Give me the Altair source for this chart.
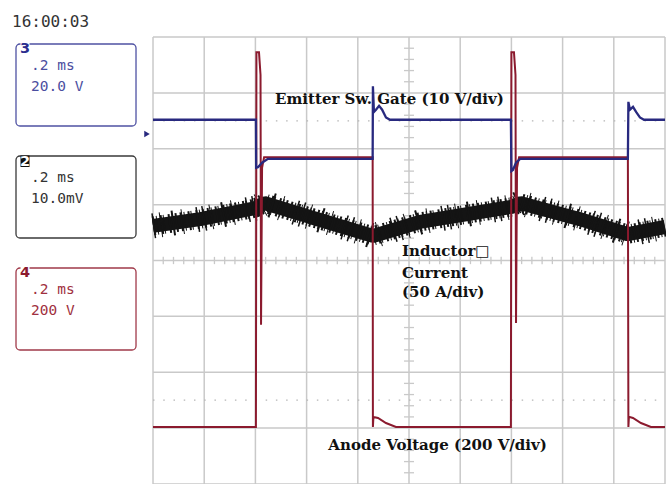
import altair as alt
import pandas as pd

# ---- data (time in ms, 0.2 ms/div; level in screen divisions) ----
gate_t = [0.0, 0.402, 0.403, 0.410, 0.426, 0.449, 0.858, 0.859, 0.863, 0.871, 0.883, 0.895, 0.910, 0.926,
          1.398, 1.400, 1.406, 1.418, 1.434, 1.855, 1.857, 1.863, 1.875, 1.887, 1.902, 1.918, 2.0]
gate_v = [2.52, 2.52, 1.66, 1.67, 1.75, 1.82, 1.82, 3.12, 2.66, 2.70, 2.77, 2.70, 2.56, 2.52,
          2.52, 1.60, 1.62, 1.75, 1.82, 1.82, 2.84, 2.70, 2.75, 2.66, 2.56, 2.52, 2.52]

anode_t = [0.0, 0.402, 0.404, 0.414, 0.420, 0.422, 0.426, 0.434, 0.858, 0.859, 0.861, 0.879, 0.910, 0.949,
           1.398, 1.400, 1.410, 1.416, 1.418, 1.422, 1.430, 1.855, 1.857, 1.859, 1.875, 1.906, 1.945, 2.0]
anode_v = [-2.98, -2.98, 3.73, 3.73, 3.32, -1.15, 1.66, 1.85, 1.85, -2.98, -2.80, -2.82, -2.91, -2.98,
           -2.98, 3.73, 3.73, 3.32, -1.12, 1.66, 1.85, 1.85, -2.98, -2.80, -2.82, -2.91, -2.98, -2.98]

ind_t = [0.0, 0.184, 0.402, 0.434, 0.613, 0.859, 1.043, 1.402, 1.434, 1.668, 1.855, 2.0]
ind_v = [0.62, 0.74, 0.94, 1.03, 0.78, 0.44, 0.69, 0.96, 1.03, 0.74, 0.47, 0.60]

timestamp = "16:00:03"
ch_names = ["3", "2", "4"]
ch_row1 = [".2 ms", ".2 ms", ".2 ms"]
ch_row2 = ["20.0 V", "10.0mV", "200 V"]
labels = ["Emitter Sw. Gate (10 V/div)", "Inductor\u25a1", "Current", "(50 A/div)", "Anode Voltage (200 V/div)"]

# ---- layout (screen units) ----
X_DOM = [-0.5977, 2.0039]
Y_DOM = [-4.0011, 4.6634]
xs = alt.Scale(domain=X_DOM, nice=False, zero=False)
ys = alt.Scale(domain=Y_DOM, nice=False, zero=False)

BLUE = "#28297f"
RED = "#8b1a2e"
BLACK = "#141414"
GRID = "#c9c9c9"


def X(f="x"):
    return alt.X(f"{f}:Q", scale=xs, axis=None)


def Y(f="y"):
    return alt.Y(f"{f}:Q", scale=ys, axis=None)


# grid
gv = pd.DataFrame({"x": [i * 0.2 for i in range(11)], "y": -4.0, "y2": 4.0})
gh = pd.DataFrame({"y": list(range(-4, 5)), "x": 0.0, "x2": 2.0})
grid_v = alt.Chart(gv).mark_rule(color=GRID, strokeWidth=1.5).encode(x=X(), y=Y(), y2="y2:Q")
grid_h = alt.Chart(gh).mark_rule(color=GRID, strokeWidth=1.5).encode(y=Y(), x=X(), x2="x2:Q")

tx = pd.DataFrame({"x": [k * 0.04 for k in range(1, 50) if k % 5], "y": -0.065, "y2": 0.065})
ty = pd.DataFrame({"y": [k * 0.2 for k in range(-19, 20) if k % 5], "x": 0.9805, "x2": 1.0195})
ticks_x = alt.Chart(tx).mark_rule(color=GRID, strokeWidth=1.3).encode(x=X(), y=Y(), y2="y2:Q")
ticks_y = alt.Chart(ty).mark_rule(color=GRID, strokeWidth=1.3).encode(y=Y(), x=X(), x2="x2:Q")

dots = pd.DataFrame({"y": [2.5, -2.5], "x": 0.0, "x2": 2.0})
dotted = alt.Chart(dots).mark_rule(color="#b5b5b5", strokeWidth=1.3, strokeDash=[1.5, 8.74]).encode(
    y=Y(), x=X(), x2="x2:Q")

# traces
dfi = pd.DataFrame({"x": ind_t, "y": ind_v, "o": range(len(ind_t))})
ind_core = alt.Chart(dfi).mark_line(color=BLACK, strokeWidth=14, strokeJoin="bevel").encode(
    x=X(), y=Y(), order="o:Q")
ind_sp1 = alt.Chart(dfi).mark_line(color=BLACK, strokeWidth=19, strokeJoin="bevel",
                                   strokeDash=[2, 2, 1, 3, 2, 1, 1, 4, 2, 2, 1, 2, 2, 3]).encode(
    x=X(), y=Y(), order="o:Q")
ind_sp2 = alt.Chart(dfi).mark_line(color=BLACK, strokeWidth=25, strokeJoin="bevel",
                                   strokeDash=[1.5, 6, 1, 11, 2, 8, 1, 14, 1.5, 5]).encode(
    x=X(), y=Y(), order="o:Q")

dfa = pd.DataFrame({"x": anode_t, "y": anode_v, "o": range(len(anode_t))})
anode = alt.Chart(dfa).mark_line(color=RED, strokeWidth=2).encode(x=X(), y=Y(), order="o:Q")

dfg = pd.DataFrame({"x": gate_t, "y": gate_v, "o": range(len(gate_t))})
gate = alt.Chart(dfg).mark_line(color=BLUE, strokeWidth=2.3).encode(x=X(), y=Y(), order="o:Q")

# annotations
ann = pd.DataFrame({"x": [0.4766, 0.9727, 0.9727, 0.9727, 0.685],
                    "y": [2.793, 0.081, -0.313, -0.653, -3.392],
                    "t": labels})
ann_t = alt.Chart(ann).mark_text(font="DejaVu Serif", fontWeight="bold", fontSize=15, align="left",
                                 baseline="alphabetic", color="#111111").encode(x=X(), y=Y(), text="t:N")

# left panel
box = pd.DataFrame({"x": -0.5352, "x2": -0.0664,
                    "y": [3.876, 1.871, -0.134], "y2": [2.408, 0.403, -1.602],
                    "c": ch_names})
cscale = alt.Scale(domain=ch_names, range=["#4f52a3", "#3a3a3a", "#a03a4a"])
boxes = alt.Chart(box).mark_rect(fillOpacity=0, strokeWidth=1.3, cornerRadius=4).encode(
    x=X(), x2="x2:Q", y=Y(), y2="y2:Q", stroke=alt.Stroke("c:N", scale=cscale, legend=None))

lab_bg = pd.DataFrame({"x": -0.5176, "x2": -0.4824, "y": [3.93, 1.88, -0.081], "y2": [3.733, 1.674, -0.313],
                       "f": ["#ffffff", "#111111", "#ffffff"]})
lab_bgs = alt.Chart(lab_bg).mark_rect().encode(x=X(), x2="x2:Q", y=Y(), y2="y2:Q",
                                              fill=alt.Fill("f:N", scale=None))
lab = pd.DataFrame({"x": -0.5, "y": [3.71, 1.69, -0.30], "t": ch_names,
                    "c": ["#2c2f8f", "#ffffff", "#8b1a2e"]})
lab_t = alt.Chart(lab).mark_text(font="DejaVu Sans", fontWeight="bold", fontSize=14.5, align="center",
                                 baseline="alphabetic").encode(x=X(), y=Y(), text="t:N",
                                                               color=alt.Color("c:N", scale=None))

rows = pd.DataFrame({"x": -0.4765,
                     "y": [3.410, 1.405, -0.600, 3.034, 1.029, -0.976],
                     "t": ch_row1 + ch_row2,
                     "c": ["#4b4ea0", "#333333", "#a03040"] * 2})
rows_t = alt.Chart(rows).mark_text(font="DejaVu Sans Mono", fontSize=14.5, align="left",
                                   baseline="alphabetic").encode(x=X(), y=Y(), text="t:N",
                                                                 color=alt.Color("c:N", scale=None))

ts = pd.DataFrame({"x": [-0.5508], "y": [4.18], "t": [timestamp]})
ts_t = alt.Chart(ts).mark_text(font="DejaVu Sans Mono", fontSize=16, align="left", baseline="alphabetic",
                               color="#333333").encode(x=X(), y=Y(), text="t:N")

mk = pd.DataFrame({"x": [-0.0234], "y": [2.265]})
marker = alt.Chart(mk).mark_point(shape="triangle-right", filled=True, size=40, color=BLUE, opacity=1).encode(
    x=X(), y=Y())

chart = alt.layer(
    grid_v, grid_h, ticks_x, ticks_y, dotted,
    ind_core, ind_sp1, ind_sp2, anode, gate,
    ann_t, boxes, lab_bgs, lab_t, rows_t, ts_t, marker
).properties(
    width=666, height=484, autosize=alt.AutoSizeParams(type="none"), padding=0, background="#ffffff"
).configure_view(stroke=None)

chart.save("out.html", embed_options={"renderer": "svg", "actions": False})
